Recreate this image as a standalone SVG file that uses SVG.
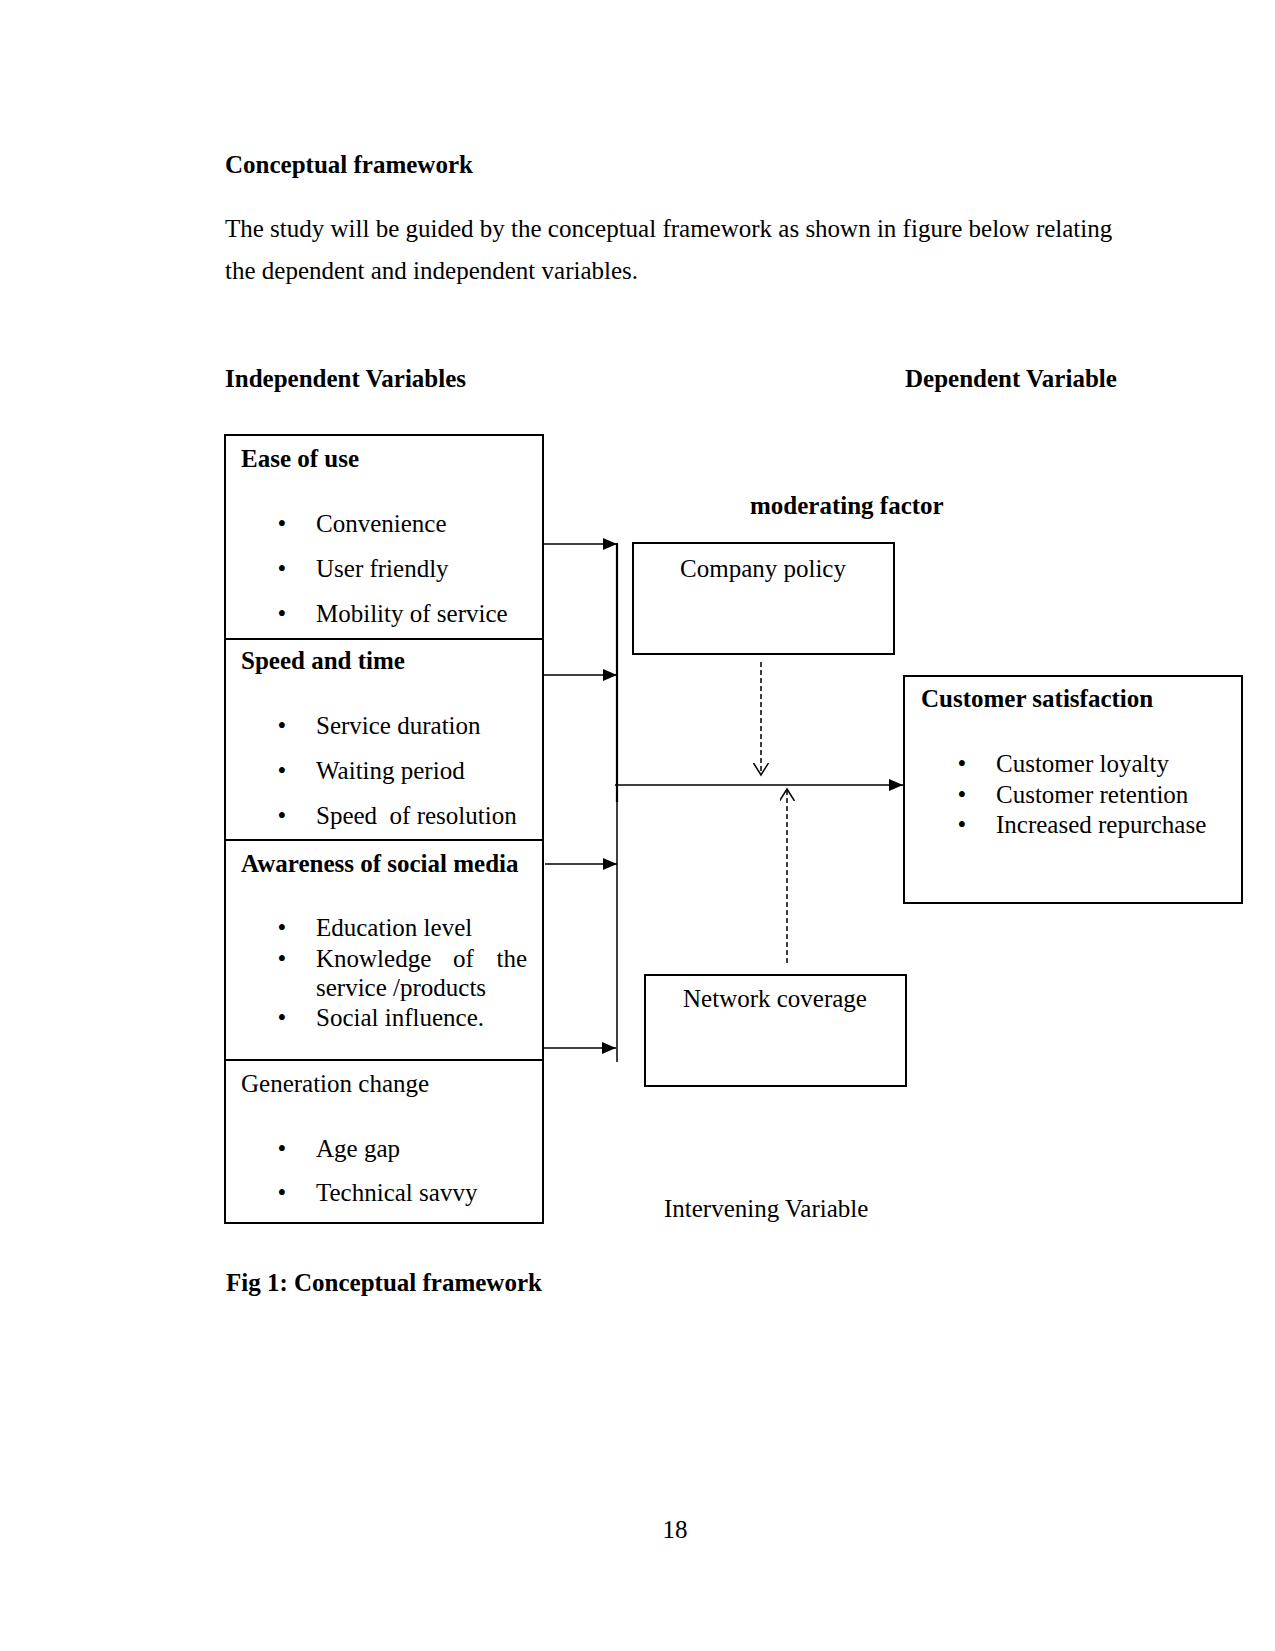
<svg xmlns="http://www.w3.org/2000/svg" width="1275" height="1651" viewBox="0 0 1275 1651">
<style>
text{font-family:"Liberation Serif","Times New Roman",serif;font-size:25px;fill:#000}
.b{font-weight:bold}
.box{fill:none;stroke:#000;stroke-width:2}
.ln{fill:none;stroke:#000;stroke-width:1.6}
.dash{fill:none;stroke:#000;stroke-width:1.5;stroke-dasharray:5,3}
.m{text-anchor:middle}
</style>
<defs>
<marker id="arr" markerUnits="userSpaceOnUse" markerWidth="16" markerHeight="14" refX="14" refY="6" orient="auto">
<path d="M0,0 L14,6 L0,12 z" fill="#000"/>
</marker>
<marker id="open" markerUnits="userSpaceOnUse" markerWidth="14" markerHeight="17" refX="12" refY="7.5" orient="auto">
<path d="M0,0 L12,7.5 L0,15" fill="none" stroke="#000" stroke-width="1.5"/>
</marker>
</defs>
<rect width="1275" height="1651" fill="#fff"/>
<g id="header">
<text class="b" x="225" y="173">Conceptual framework</text>
<text x="225" y="237">The study will be guided by the conceptual framework as shown in figure below relating</text>
<text x="225" y="279">the dependent and independent variables.</text>
<text class="b" x="225" y="387">Independent Variables</text>
<text class="b" x="905" y="387">Dependent Variable</text>
<text class="b" x="750" y="514">moderating factor</text>
</g>
<g id="ease-of-use">
<rect class="box" x="225" y="435" width="318" height="204"/>
<text class="b" x="241" y="467">Ease of use</text>
<text class="m" x="282" y="532">•</text><text x="316" y="532">Convenience</text>
<text class="m" x="282" y="577">•</text><text x="316" y="577">User friendly</text>
<text class="m" x="282" y="622">•</text><text x="316" y="622">Mobility of service</text>
</g>
<g id="speed-and-time">
<rect class="box" x="225" y="639" width="318" height="201"/>
<text class="b" x="241" y="669">Speed and time</text>
<text class="m" x="282" y="734">•</text><text x="316" y="734">Service duration</text>
<text class="m" x="282" y="779">•</text><text x="316" y="779">Waiting period</text>
<text class="m" x="282" y="824">•</text><text x="316" y="824" xml:space="preserve">Speed  of resolution</text>
</g>
<g id="awareness">
<rect class="box" x="225" y="840" width="318" height="220"/>
<text class="b" x="241" y="872">Awareness of social media</text>
<text class="m" x="282" y="936">•</text><text x="316" y="936">Education level</text>
<text class="m" x="282" y="967">•</text><text x="316" y="967">Knowledge</text><text x="453" y="967">of</text><text x="527" y="967" text-anchor="end">the</text>
<text x="316" y="996">service /products</text>
<text class="m" x="282" y="1026">•</text><text x="316" y="1026">Social influence.</text>
</g>
<g id="generation-change">
<rect class="box" x="225" y="1060" width="318" height="163"/>
<text x="241" y="1092">Generation change</text>
<text class="m" x="282" y="1157">•</text><text x="316" y="1157">Age gap</text>
<text class="m" x="282" y="1201">•</text><text x="316" y="1201">Technical savvy</text>
</g>
<g id="company-policy">
<rect class="box" x="633" y="543" width="261" height="111"/>
<text class="m" x="763" y="577">Company policy</text>
</g>
<g id="customer-satisfaction">
<rect class="box" x="904" y="676" width="338" height="227"/>
<text class="b" x="921" y="707">Customer satisfaction</text>
<text class="m" x="962" y="772">•</text><text x="996" y="772">Customer loyalty</text>
<text class="m" x="962" y="803">•</text><text x="996" y="803">Customer retention</text>
<text class="m" x="962" y="833">•</text><text x="996" y="833">Increased repurchase</text>
</g>
<g id="network-coverage">
<rect class="box" x="645" y="975" width="261" height="111"/>
<text class="m" x="775" y="1007">Network coverage</text>
<text x="664" y="1217">Intervening Variable</text>
</g>
<g id="connectors">
<line class="ln" x1="543" y1="544" x2="617" y2="544" marker-end="url(#arr)"/>
<line class="ln" x1="543" y1="675" x2="617" y2="675" marker-end="url(#arr)"/>
<line class="ln" x1="545" y1="864" x2="617" y2="864" marker-end="url(#arr)"/>
<line class="ln" x1="543" y1="1048" x2="616" y2="1048" marker-end="url(#arr)"/>
<line x1="617" y1="543" x2="617" y2="802" stroke="#000" stroke-width="2.2"/>
<line x1="617" y1="802" x2="617" y2="1062" stroke="#000" stroke-width="1.5"/>
<line class="ln" x1="615" y1="785" x2="903" y2="785" marker-end="url(#arr)"/>
<line class="dash" x1="761" y1="662" x2="761" y2="775" marker-end="url(#open)"/>
<line class="dash" x1="787" y1="963" x2="787" y2="789" marker-end="url(#open)"/>
</g>
<g id="footer">
<text class="b" x="226" y="1291">Fig 1: Conceptual framework</text>
<text class="m" x="675" y="1538">18</text>
</g>
</svg>
